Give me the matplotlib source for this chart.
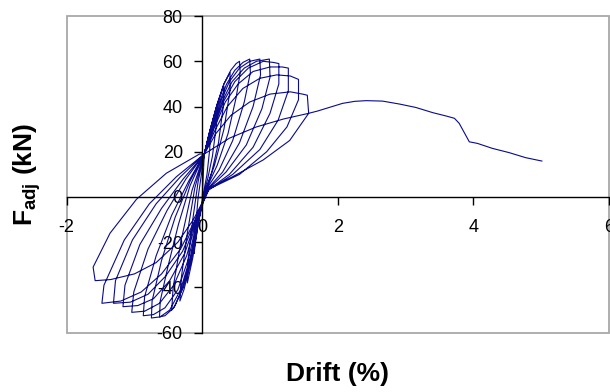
"""Cyclic drift vs adjusted lateral force, recreated from a reference picture."""
import matplotlib
matplotlib.use("Agg")
import matplotlib.pyplot as plt
from matplotlib.patches import Rectangle

plt.rcParams.update({
    "font.family": ["Liberation Sans", "DejaVu Sans"],
    "mathtext.fontset": "custom",
    "mathtext.rm": "Liberation Sans:bold",
    "mathtext.it": "Liberation Sans:bold",
    "mathtext.bf": "Liberation Sans:bold",
})

# cyclic part, one row per cycle (positive half, then negative half);
# every cycle passes through the pinch point near (0, 19)
loop_drift = [
    0.00,
    0.03, 0.08, 0.12, 0.11, 0.07, 0.02, -0.05, -0.10, -0.12, -0.11, -0.06,
    0.03, 0.10, 0.17, 0.22, 0.21, 0.15, 0.08, 0.03, -0.06, -0.14, -0.22, -0.21, -0.14, -0.06,
    0.03, 0.11, 0.20, 0.28, 0.32, 0.31, 0.24, 0.14, 0.04, -0.07, -0.17, -0.27, -0.33, -0.31, -0.22, -0.11,
    0.03, 0.12, 0.22, 0.32, 0.41, 0.41, 0.32, 0.18, 0.04, -0.07, -0.17, -0.30, -0.40, -0.45, -0.43, -0.31, -0.15,
    0.03, 0.12, 0.22, 0.32, 0.42, 0.50, 0.55, 0.56, 0.50, 0.38, 0.22, 0.05,
    -0.06, -0.15, -0.28, -0.42, -0.55, -0.63, -0.62, -0.50, -0.35, -0.18,
    0.03, 0.13, 0.24, 0.36, 0.48, 0.60, 0.70, 0.71, 0.62, 0.45, 0.25, 0.05,
    -0.07, -0.17, -0.32, -0.48, -0.62, -0.75, -0.74, -0.60, -0.40, -0.18,
    0.03, 0.14, 0.27, 0.40, 0.55, 0.70, 0.85, 0.86, 0.75, 0.55, 0.30, 0.06,
    -0.08, -0.20, -0.36, -0.55, -0.72, -0.87, -0.85, -0.68, -0.45, -0.20,
    0.03, 0.15, 0.29, 0.44, 0.62, 0.80, 0.99, 1.00, 0.88, 0.65, 0.35, 0.07,
    -0.09, -0.23, -0.42, -0.63, -0.85, -1.04, -1.01, -0.80, -0.52, -0.24,
    0.03, 0.16, 0.31, 0.48, 0.68, 0.90, 1.05, 1.13, 1.13, 1.00, 0.75, 0.40, 0.08,
    -0.10, -0.26, -0.48, -0.72, -0.95, -1.17, -1.14, -0.92, -0.60, -0.28,
    0.03, 0.17, 0.34, 0.53, 0.75, 1.00, 1.18, 1.27, 1.27, 1.12, 0.85, 0.45, 0.09,
    -0.11, -0.29, -0.54, -0.80, -1.06, -1.31, -1.28, -1.03, -0.68, -0.32,
    0.03, 0.18, 0.37, 0.60, 0.85, 1.10, 1.30, 1.42, 1.42, 1.25, 0.95, 0.55, 0.10,
    -0.12, -0.32, -0.60, -0.90, -1.20, -1.48, -1.45, -1.15, -0.78, -0.38,
    0.03, 0.20, 0.42, 0.70, 1.00, 1.30, 1.48, 1.55, 1.57, 1.29, 0.90, 0.45, 0.11,
    -0.13, -0.36, -0.68, -1.00, -1.35, -1.58, -1.61, -1.36, -0.97, -0.53, -0.04,
    0.03, 0.40, 0.80, 1.20, 1.57,
]
loop_force = [
    0,
    19, 24, 28, 21, 10, 2, -10, -20, -25, -17, 0,
    19, 28, 35, 40, 32, 18, 8, 2, -12, -27, -38, -28, -10, 7,
    19, 29, 39, 46, 49, 40, 24, 11, 2, -13, -29, -41, -46, -36, -16, 4,
    19, 30, 41, 50, 55, 47, 30, 14, 2, -12, -27, -41, -48, -50, -40, -19, 3,
    19, 30, 41, 50, 56, 59, 60, 55, 44, 28, 14, 3,
    -10, -25, -40, -49, -52.5, -53, -46, -30, -12, 5,
    19, 30, 41, 50, 56, 59.5, 61, 55, 42, 25, 12, 3,
    -11, -26, -41, -50, -53, -53.5, -46, -28, -9, 7,
    19, 30, 42, 51, 57, 60, 61, 54, 40, 24, 11, 3,
    -11, -27, -41, -49, -52, -52.5, -44, -26, -8, 7,
    19, 30, 42, 51, 57, 60, 61, 53, 39, 23, 11, 3,
    -11, -26, -39, -47, -50.5, -51, -42, -23, -6, 8,
    19, 30, 42, 51, 57, 60, 59.5, 59, 50, 37, 22, 10, 3,
    -11, -25, -37, -45, -48, -48.5, -39, -21, -5, 8,
    19, 30, 42, 50, 55.5, 57.5, 57.5, 57, 47, 34, 21, 10, 3,
    -11, -24, -35, -43, -46.5, -47, -37, -19, -3, 9,
    19, 29, 40, 48, 52.5, 54, 53.5, 52, 43, 31, 20, 10, 3.5,
    -11, -23, -34, -42, -46, -47, -39, -19, -3, 9,
    19, 28, 36, 42, 45.5, 46.5, 45.5, 45, 37, 25, 16.4, 9, 4,
    -10, -20, -29, -34, -36.5, -37, -31, -16, -1, 10.5, 19,
    19, 26, 31, 34.5, 37,
]

# monotonic push after the last cycle
tail_drift = [1.57, 1.70, 1.83, 2.07, 2.25, 2.42, 2.66, 2.91, 3.15, 3.40, 3.60, 3.72,
              3.79, 3.94, 4.06, 4.28, 4.53, 4.77, 5.01]
tail_force = [37.0, 38.0, 39.2, 41.4, 42.3, 42.6, 42.4, 41.1, 39.6, 37.3, 35.8, 34.8,
              32.6, 24.4, 23.7, 21.5, 19.6, 17.4, 15.9]

x_ticks = [-2, 0, 2, 4, 6]
y_ticks = [-60, -40, -20, 0, 20, 40, 60, 80]

assert len(loop_drift) == len(loop_force)

fig = plt.figure(figsize=(6.1, 3.92), dpi=100)
ax = fig.add_axes([0.1093, 0.1513, 0.8890, 0.8077])

line_color = "#0a0a8c"
ax.plot(loop_drift, loop_force, color=line_color, lw=0.8)
ax.plot(tail_drift, tail_force, color=line_color, lw=0.8)

ax.set_xlim(-2, 6)
ax.set_ylim(-60, 80)
ax.set_xticks(x_ticks)
ax.set_yticks(y_ticks)
ax.set_xticklabels([str(t) for t in x_ticks])
ax.set_yticklabels([str(t) for t in y_ticks])

ax.spines["left"].set_position(("data", 0))
ax.spines["bottom"].set_position(("data", 0))
ax.spines["top"].set_visible(False)
ax.spines["right"].set_visible(False)
for s in ("left", "bottom"):
    ax.spines[s].set_linewidth(1.0)
    ax.spines[s].set_color("black")
ax.tick_params(direction="out", length=6, width=1.0, labelsize=13, pad=8)
ax.tick_params(axis="x", pad=10)

ax.add_patch(Rectangle((0, 0), 1, 1, transform=ax.transAxes, fill=False,
                       edgecolor="#a8a8a8", lw=1.3, clip_on=False, zorder=0))

fig.text(0.554, 0.046, "Drift (%)", ha="center", va="center",
         fontsize=19, fontweight="bold")
fig.text(0.045, 0.554, r"F$_{\mathrm{adj}}$ (kN)", ha="center", va="center",
         rotation=90, fontsize=19, fontweight="bold")

fig.savefig("out.png", dpi=100)
